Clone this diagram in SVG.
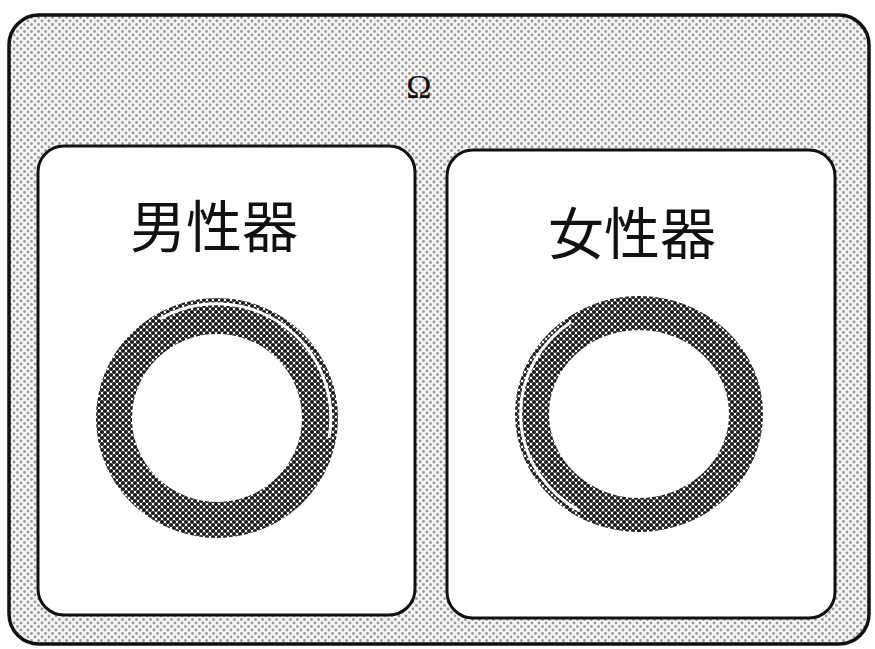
<svg xmlns="http://www.w3.org/2000/svg" width="875" height="649" viewBox="0 0 875 649">
  <defs>
    <pattern id="bgDots" patternUnits="userSpaceOnUse" width="7" height="7">
      <rect width="7" height="7" fill="#f5f5f5"/>
      <circle cx="0" cy="0" r="1.4" fill="#9a9a9a"/>
      <circle cx="7" cy="0" r="1.4" fill="#9a9a9a"/>
      <circle cx="0" cy="7" r="1.4" fill="#9a9a9a"/>
      <circle cx="7" cy="7" r="1.4" fill="#9a9a9a"/>
      <circle cx="3.5" cy="3.5" r="1.4" fill="#9a9a9a"/>
    </pattern>
    <pattern id="ringDots" patternUnits="userSpaceOnUse" width="6" height="6">
      <rect width="6" height="6" fill="#ffffff"/>
      <circle cx="0" cy="0" r="2.1" fill="#1a1a1a"/>
      <circle cx="6" cy="0" r="2.1" fill="#1a1a1a"/>
      <circle cx="0" cy="6" r="2.1" fill="#1a1a1a"/>
      <circle cx="6" cy="6" r="2.1" fill="#1a1a1a"/>
      <circle cx="3" cy="3" r="2.1" fill="#1a1a1a"/>
    </pattern>
    <style>
      .frame { stroke: #111; stroke-width: 3.5; }
      .panel { fill: #ffffff; stroke: #111; stroke-width: 3; }
      .label { font-family: "Noto Sans CJK JP", "Noto Sans CJK SC", sans-serif; font-size: 56px; fill: #111; text-anchor: middle; font-weight: 400; }
      .ring { fill: none; stroke: url(#ringDots); }
      .gap { fill: none; stroke: #ffffff; stroke-width: 3; }
    </style>
  </defs>

  <rect width="875" height="649" fill="#ffffff"/>

  <g id="outer">
    <rect class="frame" x="9" y="15" width="860" height="629" rx="30" ry="30" fill="url(#bgDots)"/>
    <text x="419" y="98" font-family="Liberation Serif, serif" font-size="34" fill="#111" text-anchor="middle">Ω</text>
  </g>

  <g id="male">
    <rect class="panel" x="38" y="146" width="377" height="469" rx="26" ry="26"/>
    <text class="label" x="214" y="247">男性器</text>
    <ellipse class="ring" cx="217" cy="418" rx="103" ry="102" stroke-width="36"/>
    <path class="gap" d="M 160 319 A 114 114 0 0 1 329 438"/>
  </g>

  <g id="female">
    <rect class="panel" x="447" y="150" width="388" height="468" rx="26" ry="26"/>
    <text class="label" x="632" y="254">女性器</text>
    <ellipse class="ring" cx="639" cy="414" rx="107" ry="101" stroke-width="34"/>
    <path class="gap" d="M 580 511 A 118 112 0 0 1 571 322"/>
  </g>

  <g id="connectors"/>
</svg>
